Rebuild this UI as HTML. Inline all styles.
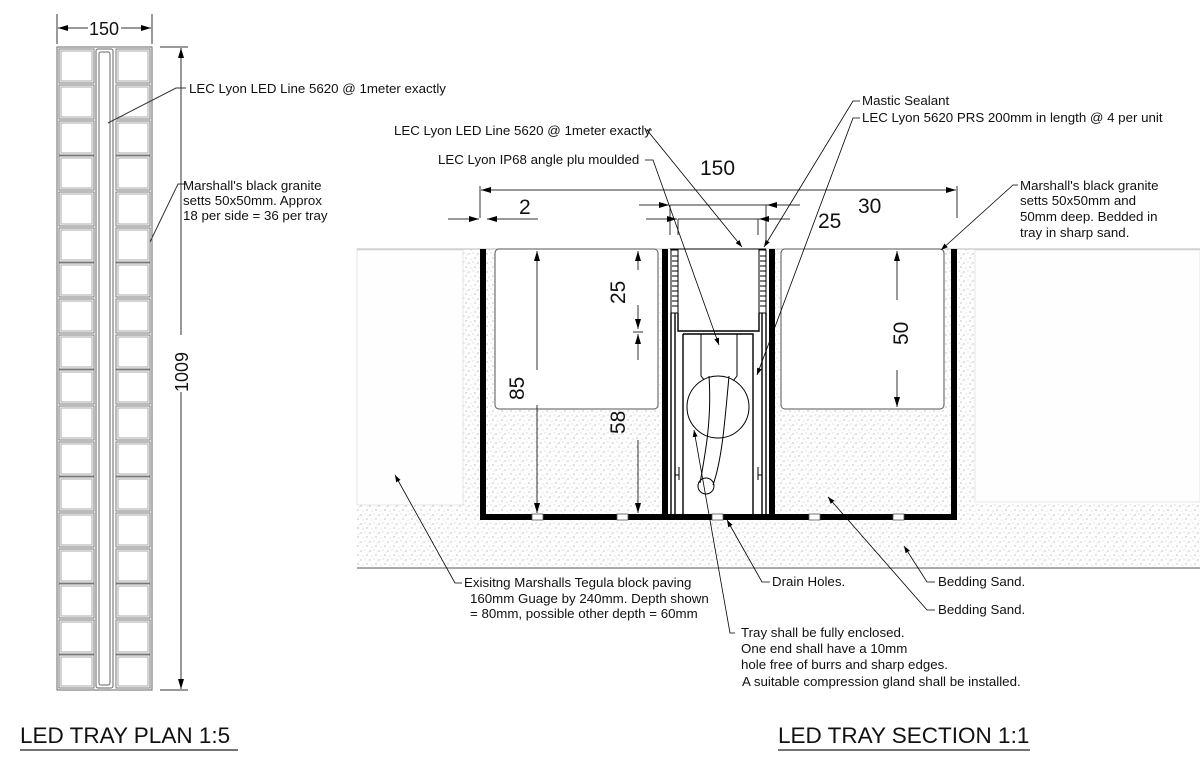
<!DOCTYPE html>
<html><head><meta charset="utf-8"><style>
html,body{margin:0;padding:0;background:#fff;}
svg{display:block;}
text{font-family:"Liberation Sans",Arial,sans-serif;fill:#111;}
</style></head><body>
<svg width="1200" height="759" viewBox="0 0 1200 759" xmlns="http://www.w3.org/2000/svg">
<defs>
<pattern id="sand" width="9" height="9" patternUnits="userSpaceOnUse">
<rect width="9" height="9" fill="#fff"/>
<circle cx="1" cy="2" r="0.6" fill="#999"/><circle cx="5" cy="1" r="0.5" fill="#aaa"/>
<circle cx="7" cy="6" r="0.6" fill="#999"/><circle cx="3" cy="7" r="0.5" fill="#bbb"/>
<circle cx="8" cy="3" r="0.4" fill="#aaa"/>
</pattern>
<marker id="ar" markerWidth="10" markerHeight="6" refX="10" refY="3" orient="auto" markerUnits="userSpaceOnUse"><path d="M0,0 L10,3 L0,6 Z" fill="#000"/></marker>
<marker id="sa" markerWidth="7" markerHeight="5" refX="7" refY="2.5" orient="auto" markerUnits="userSpaceOnUse"><path d="M0,0 L7,2.5 L0,5 Z" fill="#000"/></marker>
</defs>

<!-- PLAN -->
<g stroke="#666" fill="none" stroke-width="1">
<rect x="57" y="47" width="95" height="643"/>
<rect x="96" y="49" width="17" height="639" rx="2"/>
<rect x="99" y="52" width="11" height="633" rx="2"/>
</g>
<g stroke="#777" fill="none" stroke-width="1">
<path d="
M59 49h35v34h-35z M59 85h35v34h-35z M59 121h35v34h-35z M59 156h35v34h-35z M59 192h35v34h-35z M59 228h35v34h-35z
M59 263h35v34h-35z M59 299h35v34h-35z M59 335h35v34h-35z M59 370h35v34h-35z M59 406h35v34h-35z M59 442h35v34h-35z
M59 477h35v34h-35z M59 513h35v34h-35z M59 549h35v34h-35z M59 584h35v34h-35z M59 620h35v34h-35z M59 655h35v33h-35z"/>
<path d="
M116 49h34v34h-34z M116 85h34v34h-34z M116 121h34v34h-34z M116 156h34v34h-34z M116 192h34v34h-34z M116 228h34v34h-34z
M116 263h34v34h-34z M116 299h34v34h-34z M116 335h34v34h-34z M116 370h34v34h-34z M116 406h34v34h-34z M116 442h34v34h-34z
M116 477h34v34h-34z M116 513h34v34h-34z M116 549h34v34h-34z M116 584h34v34h-34z M116 620h34v34h-34z M116 655h34v33h-34z"/>
<path d="M61 51h31v30h-31z M61 87h31v30h-31z M61 123h31v30h-31z M61 158h31v30h-31z M61 194h31v30h-31z M61 230h31v30h-31z
M61 265h31v30h-31z M61 301h31v30h-31z M61 337h31v30h-31z M61 372h31v30h-31z M61 408h31v30h-31z M61 444h31v30h-31z
M61 479h31v30h-31z M61 515h31v30h-31z M61 551h31v30h-31z M61 586h31v30h-31z M61 622h31v30h-31z M61 657h31v29h-31z
M118 51h30v30h-30z M118 87h30v30h-30z M118 123h30v30h-30z M118 158h30v30h-30z M118 194h30v30h-30z M118 230h30v30h-30z
M118 265h30v30h-30z M118 301h30v30h-30z M118 337h30v30h-30z M118 372h30v30h-30z M118 408h30v30h-30z M118 444h30v30h-30z
M118 479h30v30h-30z M118 515h30v30h-30z M118 551h30v30h-30z M118 586h30v30h-30z M118 622h30v30h-30z M118 657h30v29h-30z" stroke="#aaa"/>
</g>
<g stroke="#333" stroke-width="1" fill="none">
<path d="M57 14v30 M152 14v30"/>
<line x1="88" y1="28" x2="58" y2="28" marker-end="url(#ar)"/>
<line x1="121" y1="28" x2="151" y2="28" marker-end="url(#ar)"/>
<path d="M160 47h28 M160 690h28"/>
<line x1="181" y1="335" x2="181" y2="48" marker-end="url(#ar)"/>
<line x1="181" y1="392" x2="181" y2="689" marker-end="url(#ar)"/>
<path d="M186 88h-10 L108 123 M186 184h-8 L150 242"/>
</g>
<text x="89" y="35" font-size="18" fill="#555">150</text>
<text x="188" y="392" font-size="18" fill="#555" transform="rotate(-90 188 392)">1009</text>
<text x="189" y="93" font-size="13.3">LEC Lyon LED Line 5620 @ 1meter exactly</text>
<text x="183" y="190" font-size="13.3">Marshall's black granite</text>
<text x="183" y="205" font-size="13.3">setts 50x50mm. Approx</text>
<text x="183" y="220" font-size="13.3">18 per side = 36 per tray</text>

<!-- SECTION ground -->
<rect x="357" y="249" width="843" height="319" fill="url(#sand)"/>
<rect x="357" y="250" width="106" height="255" fill="#fefefe" stroke="#e6e6e6"/>
<rect x="975" y="250" width="225" height="252" fill="#fefefe" stroke="#e6e6e6"/>
<line x1="357" y1="249" x2="1200" y2="249" stroke="#bbb"/>
<line x1="357" y1="568" x2="1200" y2="568" stroke="#777" stroke-width="1.2"/>
<rect x="486" y="250" width="465" height="264" fill="url(#sand)"/>
<rect x="495" y="249" width="163" height="160" rx="4" fill="#fff" stroke="#555"/>
<rect x="781" y="249" width="163" height="160" rx="4" fill="#fff" stroke="#555"/>
<rect x="667" y="249" width="102" height="266" fill="#fff"/>
<g fill="#000">
<rect x="480" y="249" width="6" height="271"/>
<rect x="951" y="249" width="6" height="271"/>
<rect x="480" y="514" width="477" height="6"/>
<rect x="662" y="249" width="6" height="266"/>
<rect x="769" y="249" width="6" height="266"/>
</g>
<g fill="#fff" stroke="#555" stroke-width="0.8">
<rect x="532" y="514" width="11" height="6"/><rect x="617" y="514" width="11" height="6"/>
<rect x="712" y="514" width="11" height="6"/><rect x="809" y="514" width="11" height="6"/><rect x="893" y="514" width="11" height="6"/>
</g>
<g stroke="#000" fill="none" stroke-width="1">
<path d="M670 249h96"/>
<rect x="671" y="250" width="7" height="63" fill="#fff"/>
<rect x="759" y="250" width="7" height="63" fill="#fff"/>
<path d="M672 256h6M672 261h6M672 266h6M672 271h6M672 276h6M672 281h6M672 286h6M672 291h6M672 296h6M672 301h6M672 306h6"/>
<path d="M760 256h6M760 261h6M760 266h6M760 271h6M760 276h6M760 281h6M760 286h6M760 291h6M760 296h6M760 301h6M760 306h6"/>
<path d="M671 313v201 M675 313v201 M678 313v18h81v-18 M766 313v201 M762 313v201" stroke-width="1.4"/>
<path d="M683 334h70v180 M683 334v180" stroke-width="1.4"/>
<path d="M675 475h4v-8 M679 480v-5 M762 475h-4v-8 M758 480v-5"/>
<path d="M701 334v42 l8 10 h20 l8 -10 v-42"/>
<circle cx="718" cy="407" r="31" fill="#fff"/>
<path d="M709 376 C712 420 705 455 700 483 M729 376 C725 420 722 460 713 485"/>
<circle cx="706" cy="486" r="8"/>
</g>
<g stroke="#333" stroke-width="1" fill="none">
<path d="M480 186v32 M957 186v32"/>
<line x1="718" y1="190" x2="481" y2="190" marker-end="url(#ar)"/>
<line x1="718" y1="190" x2="956" y2="190" marker-end="url(#ar)"/>
<line x1="448" y1="219" x2="479" y2="219" marker-end="url(#ar)"/>
<line x1="538" y1="219" x2="487" y2="219" marker-end="url(#ar)"/>
<path d="M670 205h110 M678 219h100 M670 205v30 M678 219v16 M766 205v35 M758 219v16"/>
<line x1="639" y1="205" x2="669" y2="205" marker-end="url(#ar)"/>
<line x1="800" y1="205" x2="767" y2="205" marker-end="url(#ar)"/>
<line x1="646" y1="219" x2="677" y2="219" marker-end="url(#ar)"/>
<line x1="790" y1="219" x2="759" y2="219" marker-end="url(#ar)"/>
<line x1="537" y1="370" x2="537" y2="251" marker-end="url(#ar)"/>
<line x1="537" y1="405" x2="537" y2="513" marker-end="url(#ar)"/>
<line x1="638" y1="270" x2="638" y2="251" marker-end="url(#ar)"/>
<line x1="638" y1="305" x2="638" y2="329" marker-end="url(#ar)"/>
<line x1="638" y1="360" x2="638" y2="334" marker-end="url(#ar)"/>
<line x1="638" y1="440" x2="638" y2="513" marker-end="url(#ar)"/>
<path d="M633 332h10"/>
<line x1="897" y1="300" x2="897" y2="251" marker-end="url(#ar)"/>
<line x1="897" y1="370" x2="897" y2="407" marker-end="url(#ar)"/>
</g>
<g font-size="21" fill="#444">
<text x="519" y="214">2</text>
<text x="858" y="213">30</text>
<text x="818" y="228">25</text>
<text x="700" y="175">150</text>
<text x="524" y="400" transform="rotate(-90 524 400)">85</text>
<text x="625" y="304" transform="rotate(-90 625 304)">25</text>
<text x="625" y="434" transform="rotate(-90 625 434)">58</text>
<text x="908" y="345" transform="rotate(-90 908 345)">50</text>
</g>
<g stroke="#000" stroke-width="0.8" fill="none">
<path d="M860 101h-7 L764 247" marker-end="url(#sa)"/>
<path d="M860 118h-7 L757 375" marker-end="url(#sa)"/>
<path d="M652 130h-5 L742 247" marker-end="url(#sa)"/>
<path d="M645 160h8 L719 345" marker-end="url(#sa)"/>
<path d="M1018 185h-5 L941 250" marker-end="url(#sa)"/>
<path d="M462 583h-7 L395 475" marker-end="url(#sa)"/>
<path d="M770 582h-8 L727 520" marker-end="url(#sa)"/>
<path d="M935 582h-8 L904 546" marker-end="url(#sa)"/>
<path d="M935 610h-8 L828 497" marker-end="url(#sa)"/>
<path d="M735 633h-5 L694 430" marker-end="url(#sa)"/>
</g>
<g font-size="13.3">
<text x="862" y="105">Mastic Sealant</text>
<text x="862" y="122">LEC Lyon 5620 PRS 200mm in length @ 4 per unit</text>
<text x="394" y="135">LEC Lyon LED Line 5620 @ 1meter exactly</text>
<text x="438" y="164">LEC Lyon IP68 angle plu moulded</text>
<text x="1020" y="190">Marshall's black granite</text>
<text x="1020" y="205">setts 50x50mm and</text>
<text x="1020" y="221">50mm deep. Bedded in</text>
<text x="1020" y="237">tray in sharp sand.</text>
<text x="464" y="587">Exisitng Marshalls Tegula block paving</text>
<text x="470" y="603">160mm Guage by 240mm. Depth shown</text>
<text x="470" y="618">= 80mm, possible other depth = 60mm</text>
<text x="772" y="586">Drain Holes.</text>
<text x="938" y="586">Bedding Sand.</text>
<text x="938" y="614">Bedding Sand.</text>
<text x="741" y="637">Tray shall be fully enclosed.</text>
<text x="741" y="653">One end shall have a 10mm</text>
<text x="741" y="669">hole free of burrs and sharp edges.</text>
<text x="742" y="686">A suitable compression gland shall be installed.</text>
</g>
<text x="20" y="743" font-size="22.5" fill="#222">LED TRAY PLAN 1:5</text>
<line x1="20" y1="750" x2="238" y2="750" stroke="#222" stroke-width="1.2"/>
<text x="778" y="743" font-size="22.5" fill="#222">LED TRAY SECTION 1:1</text>
<line x1="778" y1="750" x2="1030" y2="750" stroke="#222" stroke-width="1.2"/>
</svg>
</body></html>
